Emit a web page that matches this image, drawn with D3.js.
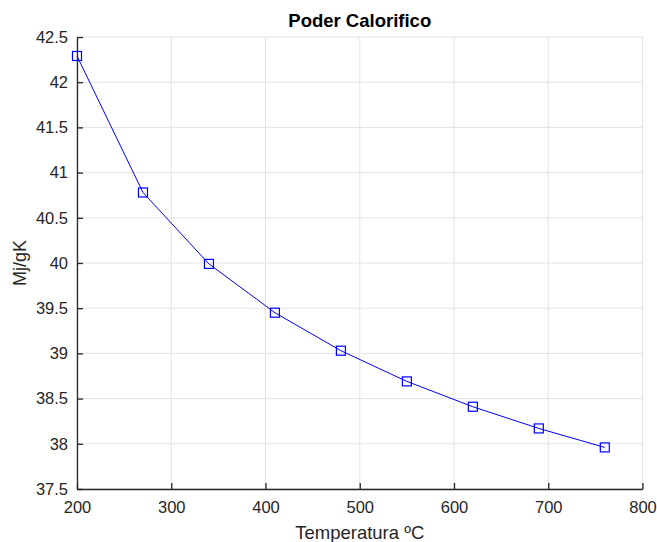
<!DOCTYPE html>
<html>
<head>
<meta charset="utf-8">
<script src="https://cdn.jsdelivr.net/npm/d3@7"></script>
<style>
body { margin: 0; background: #fff; }
text { font-family: "Liberation Sans", Arial, Helvetica, sans-serif; }
</style>
</head>
<body>
<svg id="chart"></svg>
<script>
// data
var temps = [200, 270, 340, 410, 480, 550, 620, 690, 760];
var poder = [42.29, 40.78, 39.99, 39.45, 39.03, 38.69, 38.41, 38.17, 37.96];
var xTicks = [200, 300, 400, 500, 600, 700, 800];
var yTicks = [37.5, 38, 38.5, 39, 39.5, 40, 40.5, 41, 41.5, 42, 42.5];

var W = 657, H = 542;
var margin = {top: 37, right: 14.5, bottom: 53, left: 77},
width = W - margin.left - margin.right,
height = H - margin.top - margin.bottom;

var svg = d3.select("#chart")
.attr("width", W)
.attr("height", H)
.append("g")
.attr("transform", "translate(" + margin.left + "," + margin.top + ")");

var x = d3.scaleLinear().domain([200, 800]).range([0, width]);
var y = d3.scaleLinear().domain([37.5, 42.5]).range([height, 0]);

// grid
svg.append("g").selectAll("line").data(xTicks).enter().append("line")
.attr("x1", function(d) { return x(d); }).attr("x2", function(d) { return x(d); })
.attr("y1", 0).attr("y2", height)
.attr("stroke", "#e3e3e3").attr("stroke-width", 1);
svg.append("g").selectAll("line").data(yTicks).enter().append("line")
.attr("y1", function(d) { return y(d); }).attr("y2", function(d) { return y(d); })
.attr("x1", 0).attr("x2", width)
.attr("stroke", "#e3e3e3").attr("stroke-width", 1);

// axes, ticks pointing inward
var xAxis = svg.append("g")
.attr("transform", "translate(0," + height + ")")
.call(d3.axisBottom(x).tickValues(xTicks).tickSizeInner(-6).tickSizeOuter(0).tickPadding(12).tickFormat(d3.format("d")));
var yAxis = svg.append("g")
.call(d3.axisLeft(y).tickValues(yTicks).tickSizeInner(-6).tickSizeOuter(0).tickPadding(9).tickFormat(function(d) { return d; }));
[xAxis, yAxis].forEach(function(a) {
  a.select(".domain").attr("stroke", "#262626").attr("stroke-width", 1.3);
  a.selectAll(".tick line").attr("stroke", "#262626").attr("stroke-width", 1.3);
  a.selectAll("text").attr("fill", "#262626").style("font-size", "16.5px");
});

// the line
svg.append("path")
.datum(temps.map(function(t, i) { return [t, poder[i]]; }))
.attr("fill", "none")
.attr("stroke", "#0000ff")
.attr("stroke-width", 1)
.attr("d", d3.line()
  .x(function(d) { return x(d[0]); })
  .y(function(d) { return y(d[1]); }));

// square markers
svg.append("g").selectAll("rect").data(temps).enter().append("rect")
.attr("x", function(d) { return x(d) - 4.5; })
.attr("y", function(d, i) { return y(poder[i]) - 4.5; })
.attr("width", 9).attr("height", 9)
.attr("fill", "none")
.attr("stroke", "#0000ff")
.attr("stroke-width", 1.2);

// title and labels
svg.append("text")
.attr("x", width / 2).attr("y", -10.5)
.attr("text-anchor", "middle")
.style("font-size", "18.5px").style("font-weight", "bold")
.attr("fill", "#000")
.text("Poder Calorifico");

svg.append("text")
.attr("x", width / 2).attr("y", height + 49.5)
.attr("text-anchor", "middle")
.style("font-size", "18.5px")
.attr("fill", "#262626")
.text("Temperatura ºC");

svg.append("text")
.attr("transform", "translate(-51," + (height / 2) + ") rotate(-90)")
.attr("text-anchor", "middle")
.style("font-size", "18px")
.attr("fill", "#262626")
.text("Mj/gK");
</script>
</body>
</html>
